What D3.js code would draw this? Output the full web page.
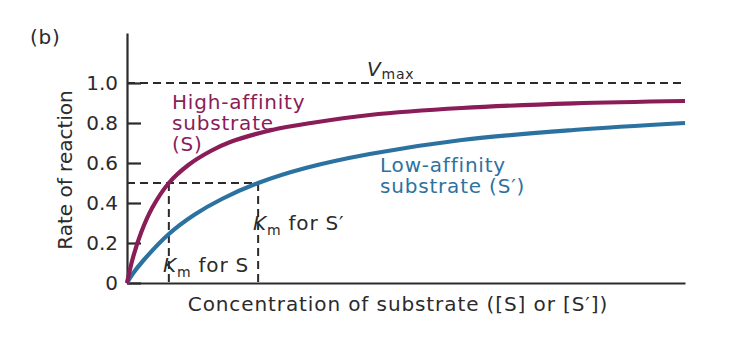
<!DOCTYPE html>
<html><head><meta charset="utf-8">
<script src="https://cdn.jsdelivr.net/npm/d3@7"></script>
<style>
body{margin:0;background:#fff;}
text{font-family:"DejaVu Sans",sans-serif;}
</style></head>
<body><svg id="c" width="730" height="340"></svg>
<script>
// concentration (arbitrary units) and rates
const concHigh = [0, 0.1, 0.25, 0.45, 0.75, 1.1, 1.5, 1.85, 2.6, 3.3, 4.35, 6.0, 8.0, 10];
const rateHigh = [0, 0.12, 0.25, 0.375, 0.50, 0.59, 0.66, 0.705, 0.765, 0.80, 0.84, 0.875, 0.898, 0.91];
const concLow  = [0, 0.1, 0.3, 0.75, 1.2, 1.7, 2.35, 3.2, 4.35, 6.0, 8.0, 10];
const rateLow  = [0, 0.045, 0.115, 0.245, 0.34, 0.42, 0.50, 0.575, 0.645, 0.715, 0.765, 0.80];
const kmS = 0.75, kmS2 = 2.35, vmax = 1.0;
const yTicks = [0, 0.2, 0.4, 0.6, 0.8, 1.0];
const yTickLabels = ["0", "0.2", "0.4", "0.6", "0.8", "1.0"];

const purple = "#8a1c58", blue = "#2c72a0", ink = "#2b2b2b";
const svg = d3.select("#c");
const x = d3.scaleLinear().domain([0, 10]).range([127, 685]);
const y = d3.scaleLinear().domain([0, 1.25]).range([283, 33]);

// dashed guide lines
const dash = "8,5";
svg.append("line").attr("x1", x(0)).attr("x2", x(10)).attr("y1", y(vmax)).attr("y2", y(vmax))
  .attr("stroke", ink).attr("stroke-width", 2).attr("stroke-dasharray", dash);
svg.append("line").attr("x1", x(0)).attr("x2", x(kmS2)).attr("y1", y(0.5)).attr("y2", y(0.5))
  .attr("stroke", ink).attr("stroke-width", 2).attr("stroke-dasharray", dash);
[kmS, kmS2].forEach(k => {
  svg.append("line").attr("x1", x(k)).attr("x2", x(k)).attr("y1", y(0.5)).attr("y2", y(0))
    .attr("stroke", ink).attr("stroke-width", 2).attr("stroke-dasharray", dash);
});

// axes
const yAxis = d3.axisLeft(y).tickValues(yTicks).tickFormat((d, i) => yTickLabels[i])
  .tickSizeInner(-14).tickSizeOuter(0).tickPadding(9);
const gy = svg.append("g").attr("transform", `translate(${x(0)},0)`).call(yAxis);
gy.select(".domain").attr("stroke", ink).attr("stroke-width", 2.2);
gy.selectAll(".tick line").attr("stroke", ink).attr("stroke-width", 2.2);
gy.selectAll(".tick text").attr("font-size", 20).attr("fill", ink)
  .style("font-family", '"DejaVu Sans",sans-serif');

const xAxis = d3.axisBottom(x).tickValues([]).tickSizeOuter(0);
const gx = svg.append("g").attr("transform", `translate(0,${y(0)})`).call(xAxis);
gx.select(".domain").attr("stroke", ink).attr("stroke-width", 2.2);

// curves
const line = d3.line().x(d => x(d[0])).y(d => y(d[1])).curve(d3.curveCatmullRom.alpha(0.5));
svg.append("path").datum(concLow.map((c, i) => [c, rateLow[i]]))
  .attr("d", line).attr("fill", "none").attr("stroke", blue).attr("stroke-width", 4.2);
svg.append("path").datum(concHigh.map((c, i) => [c, rateHigh[i]]))
  .attr("d", line).attr("fill", "none").attr("stroke", purple).attr("stroke-width", 4.2);

// texts
function txt(xp, yp, s, opt = {}) {
  const t = svg.append("text").attr("x", xp).attr("y", yp).attr("font-size", opt.size || 20)
    .attr("fill", opt.fill || ink).attr("letter-spacing", opt.ls === undefined ? 0.8 : opt.ls).text(s);
  if (opt.anchor) t.attr("text-anchor", opt.anchor);
  return t;
}
txt(30, 44, "(b)", {size: 20});
txt(172, 109, "High-affinity", {fill: purple});
txt(172, 130, "substrate", {fill: purple});
txt(172, 151, "(S)", {fill: purple});
txt(380, 172, "Low-affinity", {fill: blue});
txt(380, 193, "substrate (S\u2032)", {fill: blue});

function km(xp, yp, rest) {
  const t = svg.append("text").attr("x", xp).attr("y", yp).attr("font-size", 20).attr("fill", ink)
    .attr("letter-spacing", 0.8);
  t.append("tspan").attr("font-style", "italic").text("K");
  t.append("tspan").attr("font-size", 14).attr("dy", 5).text("m");
  t.append("tspan").attr("dy", -5).text(" " + rest);
}
km(163, 272, "for S");
km(253, 230, "for S\u2032");

const vt = svg.append("text").attr("x", 367).attr("y", 76).attr("font-size", 20).attr("fill", ink)
  .attr("letter-spacing", 0.8);
vt.append("tspan").attr("font-style", "italic").text("V");
vt.append("tspan").attr("font-size", 14).attr("dy", 3).text("max");

txt(398, 311, "Concentration of substrate ([S] or [S\u2032])", {anchor: "middle", size: 20, ls: 0.9});
svg.append("text").attr("transform", `translate(72,170) rotate(-90)`).attr("text-anchor", "middle")
  .attr("font-size", 20).attr("fill", ink).text("Rate of reaction");
</script></body></html>
